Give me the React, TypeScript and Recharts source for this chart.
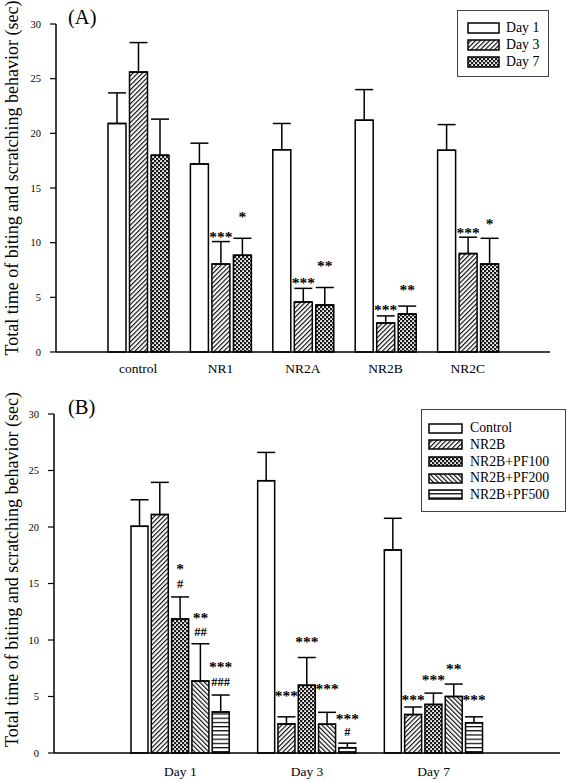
import { BarChart, Bar, XAxis, YAxis, ErrorBar, LabelList, Legend, Label } from "recharts";

const FONT = "'Liberation Serif', 'Times New Roman', serif";

// (A) receptor subunit groups, three time points
const groupsA = ["control", "NR1", "NR2A", "NR2B", "NR2C"];
const day1 = [20.9, 17.2, 18.5, 21.2, 18.45];
const day1Err = [2.8, 1.9, 2.4, 2.8, 2.35];
const day3 = [25.6, 8.05, 4.57, 2.65, 9.0];
const day3Err = [2.7, 2.05, 1.25, 0.65, 1.5];
const day7 = [18.0, 8.85, 4.3, 3.48, 8.05];
const day7Err = [3.3, 1.55, 1.6, 0.72, 2.35];
const day3Stars = ["", "***", "***", "***", "***"];
const day3StarsAt = [0, 10.8, 6.6, 4.2, 11.2];
const day7Stars = ["", "*", "**", "**", "*"];
const day7StarsAt = [0, 12.7, 8.2, 5.95, 12.0];

// (B) NR2B with PF doses
const groupsB = ["Day 1", "Day 3", "Day 7"];
const control = [20.06, 24.1, 17.97];
const controlErr = [2.35, 2.5, 2.8];
const nr2b = [21.1, 2.57, 3.4];
const nr2bErr = [2.85, 0.63, 0.67];
const pf100 = [11.86, 6.0, 4.3];
const pf100Err = [1.95, 2.45, 1.0];
const pf200 = [6.37, 2.55, 5.0];
const pf200Err = [3.3, 1.05, 1.1];
const pf500 = [3.63, 0.47, 2.68];
const pf500Err = [1.5, 0.4, 0.52];
const nr2bStars = ["", "***", "***"];
const nr2bStarsAt = [0, 5.34, 5.04];
const pf100Stars = ["*", "***", "***"];
const pf100StarsAt = [16.6, 10.15, 6.8];
const pf100Hash = ["#", "", ""];
const pf100HashAt = [14.95, 0, 0];
const pf200Stars = ["**", "***", "**"];
const pf200StarsAt = [12.3, 5.93, 7.76];
const pf200Hash = ["##", "", ""];
const pf200HashAt = [10.7, 0, 0];
const pf500Stars = ["***", "***", "***"];
const pf500StarsAt = [7.94, 3.36, 4.98];
const pf500Hash = ["###", "#", ""];
const pf500HashAt = [6.28, 1.88, 0];

const yTicks = [0, 5, 10, 15, 20, 25, 30];
const yTitle = "Total time of biting and scratching behavior (sec)";

const rowsA = groupsA.map((name, i) => ({
  name,
  day1: day1[i], day1Err: [0, day1Err[i]],
  day3: day3[i], day3Err: [0, day3Err[i]],
  day7: day7[i], day7Err: [0, day7Err[i]],
}));

const rowsB = groupsB.map((name, i) => ({
  name,
  control: control[i], controlErr: [0, controlErr[i]],
  nr2b: nr2b[i], nr2bErr: [0, nr2bErr[i]],
  pf100: pf100[i], pf100Err: [0, pf100Err[i]],
  pf200: pf200[i], pf200Err: [0, pf200Err[i]],
  pf500: pf500[i], pf500Err: [0, pf500Err[i]],
}));

// hatch fills, p = id prefix so the legend svg can have its own copy
function Patterns({ p }: { p: string }) {
  return (
    <defs>
      <pattern id={p + "fwd"} width="3.3" height="3.3" patternUnits="userSpaceOnUse" patternTransform="rotate(45)">
        <rect width="3.3" height="3.3" fill="#fff" />
        <line x1="0.6" y1="0" x2="0.6" y2="3.3" stroke="#000" strokeWidth="1.1" />
      </pattern>
      <pattern id={p + "back"} width="3.3" height="3.3" patternUnits="userSpaceOnUse" patternTransform="rotate(-45)">
        <rect width="3.3" height="3.3" fill="#fff" />
        <line x1="0.6" y1="0" x2="0.6" y2="3.3" stroke="#000" strokeWidth="1.1" />
      </pattern>
      <pattern id={p + "dots"} width="4" height="4" patternUnits="userSpaceOnUse">
        <rect width="4" height="4" fill="#1a1a1a" />
        <rect x="0.2" y="0.2" width="1.8" height="1.8" fill="#fff" />
        <rect x="2.2" y="2.2" width="1.8" height="1.8" fill="#fff" />
      </pattern>
      <pattern id={p + "horiz"} width="4" height="4.2" patternUnits="userSpaceOnUse">
        <rect width="4" height="4.2" fill="#fff" />
        <line x1="0" y1="0.6" x2="4" y2="0.6" stroke="#000" strokeWidth="1.2" />
      </pattern>
    </defs>
  );
}

const fillOf = (p: string, kind: string) => (kind === "plain" ? "#fff" : `url(#${p}${kind})`);

// asterisks / hashes above a bar, anchored at values
function marks(series: number[], lines: { text: string[]; at: number[]; hash?: boolean }[]) {
  return (props: any) => {
    const vb = props.viewBox ?? props;
    const i = props.index;
    const v = series[i];
    if (vb == null || i == null || !v) return null;
    const zero = vb.y + vb.height;
    const per = vb.height / v;
    const cx = vb.x + vb.width / 2;
    return (
      <g>
        {lines.map((l, k) =>
          l.text[i] ? (
            <text
              key={k}
              x={cx}
              y={zero - l.at[i] * per + (l.hash ? 4 : 8.5)}
              textAnchor="middle"
              fontFamily={FONT}
              fontSize={l.hash ? 12.5 : 15.5}
              fontWeight="bold"
              fill="#000"
            >
              {l.text[i]}
            </text>
          ) : null
        )}
      </g>
    );
  };
}

function yLabel(shift: number) {
  return (props: any) => {
    const vb = props.viewBox;
    const cy = vb.y + vb.height / 2 + shift;
    return (
      <text
        x={12}
        y={cy}
        transform={`rotate(-90 12 ${cy})`}
        textAnchor="middle"
        dominantBaseline="central"
        fontFamily={FONT}
        fontSize={18}
        fill="#000"
      >
        {yTitle}
      </text>
    );
  };
}

function LegendBox({ items, p, sw, sh, rowH, padTop, padLeft, gap, style }: any) {
  return (
    <div
      style={{
        border: "1px solid #444",
        background: "#fff",
        boxSizing: "border-box",
        paddingTop: padTop,
        paddingLeft: padLeft,
        fontFamily: FONT,
        fontSize: 13.8,
        color: "#000",
        ...style,
      }}
    >
      {items.map((it: any) => (
        <div key={it.label} style={{ display: "flex", alignItems: "center", height: rowH }}>
          <svg width={sw + 2} height={sh + 2} style={{ display: "block" }}>
            <Patterns p={p} />
            <rect x={1} y={1} width={sw} height={sh} fill={fillOf(p, it.kind)} stroke="#000" strokeWidth={1.5} />
          </svg>
          <span style={{ marginLeft: gap, lineHeight: 1 }}>{it.label}</span>
        </div>
      ))}
    </div>
  );
}

const legendA = [
  { label: "Day 1", kind: "plain" },
  { label: "Day 3", kind: "fwd" },
  { label: "Day 7", kind: "dots" },
];

const legendB = [
  { label: "Control", kind: "plain" },
  { label: "NR2B", kind: "fwd" },
  { label: "NR2B+PF100", kind: "dots" },
  { label: "NR2B+PF200", kind: "back" },
  { label: "NR2B+PF500", kind: "horiz" },
];

const axisStyle = { stroke: "#000", strokeWidth: 1.5 };
const tickFont = { fontFamily: FONT, fontSize: 10.5, fill: "#000" };
const catFont = { fontFamily: FONT, fontSize: 13.5, fill: "#000" };

function PanelA() {
  return (
    <BarChart width={567} height={390} data={rowsA} margin={{ top: 24, right: 17, bottom: 8, left: 0 }} barSize={18} barGap={3.5}>
      <Patterns p="a-" />
      <XAxis dataKey="name" axisLine={axisStyle} tickLine={false} tickSize={0} tickMargin={11} height={30} padding={{ left: 41, right: 41 }} tick={catFont} />
      <YAxis domain={[0, 30]} ticks={yTicks} width={56} axisLine={axisStyle} tickLine={{ stroke: "#000", strokeWidth: 1.2 }} tickSize={6} tickMargin={9} tick={tickFont}>
        <Label content={yLabel(-10)} />
      </YAxis>
      <Legend
        layout="vertical"
        align="center"
        verticalAlign="middle"
        content={() => (
          <LegendBox items={legendA} p="la-" sw={31} sh={10} rowH={17} padTop={8} padLeft={9} gap={6} style={{ width: 92, height: 67 }} />
        )}
        wrapperStyle={{ position: "absolute", left: 457, top: 10, width: 92 }}
      />
      <Bar dataKey="day1" fill="#fff" stroke="#000" strokeWidth={1.5} isAnimationActive={false}>
        <ErrorBar dataKey="day1Err" width={9} stroke="#000" strokeWidth={1.5} direction="y" />
      </Bar>
      <Bar dataKey="day3" fill={fillOf("a-", "fwd")} stroke="#000" strokeWidth={1.5} isAnimationActive={false}>
        <ErrorBar dataKey="day3Err" width={9} stroke="#000" strokeWidth={1.5} direction="y" />
        <LabelList content={marks(day3, [{ text: day3Stars, at: day3StarsAt }])} />
      </Bar>
      <Bar dataKey="day7" fill={fillOf("a-", "dots")} stroke="#000" strokeWidth={1.5} isAnimationActive={false}>
        <ErrorBar dataKey="day7Err" width={9} stroke="#000" strokeWidth={1.5} direction="y" />
        <LabelList content={marks(day7, [{ text: day7Stars, at: day7StarsAt }])} />
      </Bar>
    </BarChart>
  );
}

function PanelB() {
  return (
    <BarChart width={567} height={392} data={rowsB} margin={{ top: 24, right: 7, bottom: 4, left: 0 }} barSize={17} barGap={3.3}>
      <Patterns p="b-" />
      <XAxis dataKey="name" axisLine={axisStyle} tickLine={false} tickSize={0} tickMargin={13} height={25} padding={{ left: 63, right: 63 }} tick={catFont} />
      <YAxis domain={[0, 30]} ticks={yTicks} width={54} axisLine={axisStyle} tickLine={{ stroke: "#000", strokeWidth: 1.2 }} tickSize={6} tickMargin={9} tick={tickFont}>
        <Label content={yLabel(-14)} />
      </YAxis>
      <Legend
        layout="vertical"
        align="center"
        verticalAlign="middle"
        content={() => (
          <LegendBox items={legendB} p="lb-" sw={33} sh={9} rowH={16.6} padTop={10} padLeft={6} gap={7} style={{ width: 145, height: 103 }} />
        )}
        wrapperStyle={{ position: "absolute", left: 421, top: 19, width: 145 }}
      />
      <Bar dataKey="control" fill="#fff" stroke="#000" strokeWidth={1.5} isAnimationActive={false}>
        <ErrorBar dataKey="controlErr" width={9} stroke="#000" strokeWidth={1.5} direction="y" />
      </Bar>
      <Bar dataKey="nr2b" fill={fillOf("b-", "fwd")} stroke="#000" strokeWidth={1.5} isAnimationActive={false}>
        <ErrorBar dataKey="nr2bErr" width={9} stroke="#000" strokeWidth={1.5} direction="y" />
        <LabelList content={marks(nr2b, [{ text: nr2bStars, at: nr2bStarsAt }])} />
      </Bar>
      <Bar dataKey="pf100" fill={fillOf("b-", "dots")} stroke="#000" strokeWidth={1.5} isAnimationActive={false}>
        <ErrorBar dataKey="pf100Err" width={9} stroke="#000" strokeWidth={1.5} direction="y" />
        <LabelList content={marks(pf100, [{ text: pf100Stars, at: pf100StarsAt }, { text: pf100Hash, at: pf100HashAt, hash: true }])} />
      </Bar>
      <Bar dataKey="pf200" fill={fillOf("b-", "back")} stroke="#000" strokeWidth={1.5} isAnimationActive={false}>
        <ErrorBar dataKey="pf200Err" width={9} stroke="#000" strokeWidth={1.5} direction="y" />
        <LabelList content={marks(pf200, [{ text: pf200Stars, at: pf200StarsAt }, { text: pf200Hash, at: pf200HashAt, hash: true }])} />
      </Bar>
      <Bar dataKey="pf500" fill={fillOf("b-", "horiz")} stroke="#000" strokeWidth={1.5} isAnimationActive={false}>
        <ErrorBar dataKey="pf500Err" width={9} stroke="#000" strokeWidth={1.5} direction="y" />
        <LabelList content={marks(pf500, [{ text: pf500Stars, at: pf500StarsAt }, { text: pf500Hash, at: pf500HashAt, hash: true }])} />
      </Bar>
    </BarChart>
  );
}

export default function App() {
  return (
    <div style={{ position: "absolute", left: 0, top: 0, width: 567, height: 782, background: "#fff" }}>
      <div style={{ position: "relative", width: 567, height: 390 }}>
        <PanelA />
        <div style={{ position: "absolute", left: 68, top: 5, fontFamily: FONT, fontSize: 20.5, lineHeight: "24px" }}>(A)</div>
      </div>
      <div style={{ position: "relative", width: 567, height: 392 }}>
        <PanelB />
        <div style={{ position: "absolute", left: 68, top: 5, fontFamily: FONT, fontSize: 20.5, lineHeight: "24px" }}>(B)</div>
      </div>
    </div>
  );
}
